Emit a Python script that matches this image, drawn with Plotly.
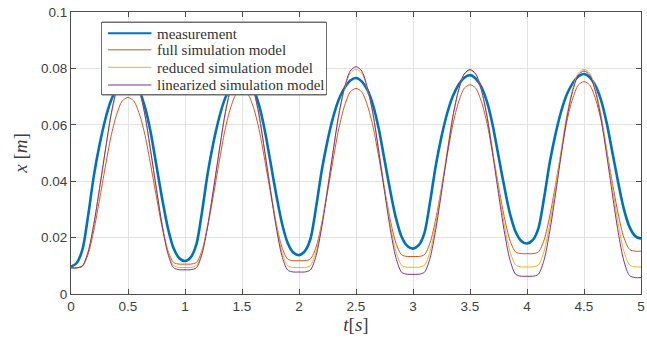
import plotly.graph_objects as go

# time axis in seconds (0 .. 5 s, step 0.05 s)
t = [round(i * 0.05, 2) for i in range(101)]

measurement = [
    .0097, .0110, .0157, .0277, .0418, .0528, .0618, .0685, .0728, .0755, .0765, .0752, .0720, .0661, .0571, .0454, .0337, .0234, .0162, .0127,
    .0117, .0130, .0176, .0293, .0430, .0538, .0626, .0692, .0734, .0760, .0770, .0757, .0726, .0669, .0580, .0467, .0353, .0252, .0182, .0147,
    .0138, .0151, .0195, .0308, .0439, .0543, .0628, .0691, .0731, .0757, .0766, .0754, .0724, .0669, .0585, .0476, .0367, .0270, .0203, .0170,
    .0161, .0173, .0216, .0327, .0456, .0558, .0641, .0702, .0742, .0767, .0776, .0764, .0734, .0680, .0597, .0489, .0382, .0286, .0221, .0188,
    .0179, .0191, .0233, .0341, .0467, .0567, .0648, .0708, .0747, .0771, .0780, .0768, .0739, .0687, .0605, .0500, .0395, .0301, .0237, .0205,
    .0196,
]

full_model = [
    .0092, .0092, .0098, .0141, .0225, .0334, .0449, .0557, .0636, .0685, .0697, .0685, .0638, .0562, .0455, .0343, .0236, .0154, .0112, .0106,
    .0106, .0106, .0112, .0155, .0242, .0352, .0469, .0580, .0660, .0710, .0722, .0710, .0662, .0583, .0474, .0360, .0251, .0166, .0124, .0118,
    .0118, .0118, .0124, .0167, .0252, .0362, .0478, .0588, .0668, .0717, .0729, .0717, .0669, .0592, .0485, .0371, .0264, .0181, .0139, .0133,
    .0133, .0133, .0139, .0182, .0267, .0377, .0492, .0602, .0681, .0730, .0742, .0730, .0682, .0604, .0496, .0383, .0275, .0191, .0149, .0143,
    .0143, .0143, .0149, .0192, .0277, .0387, .0503, .0613, .0692, .0741, .0753, .0741, .0693, .0615, .0507, .0392, .0284, .0200, .0158, .0152,
    .0152,
]

reduced_model = [
    .0093, .0093, .0100, .0149, .0246, .0372, .0504, .0630, .0720, .0776, .0790, .0776, .0720, .0630, .0505, .0372, .0247, .0150, .0101, .0094,
    .0094, .0094, .0101, .0150, .0248, .0373, .0506, .0631, .0722, .0778, .0792, .0778, .0722, .0631, .0506, .0373, .0248, .0150, .0101, .0094,
    .0094, .0094, .0101, .0150, .0249, .0375, .0509, .0635, .0727, .0783, .0797, .0783, .0727, .0636, .0509, .0376, .0249, .0151, .0102, .0095,
    .0095, .0095, .0102, .0151, .0249, .0374, .0507, .0632, .0723, .0779, .0793, .0779, .0723, .0633, .0507, .0375, .0249, .0152, .0103, .0096,
    .0096, .0096, .0103, .0152, .0250, .0376, .0510, .0636, .0727, .0783, .0797, .0783, .0727, .0636, .0510, .0376, .0250, .0152, .0103, .0096,
    .0096,
]

linearized_model = [
    .0093, .0093, .0100, .0149, .0247, .0374, .0507, .0634, .0725, .0781, .0795, .0781, .0724, .0632, .0504, .0370, .0242, .0143, .0093, .0086,
    .0086, .0086, .0093, .0143, .0243, .0372, .0507, .0636, .0729, .0786, .0800, .0786, .0728, .0634, .0504, .0367, .0237, .0136, .0085, .0078,
    .0078, .0078, .0085, .0136, .0238, .0369, .0508, .0639, .0733, .0791, .0806, .0791, .0732, .0637, .0504, .0364, .0232, .0129, .0077, .0070,
    .0070, .0070, .0077, .0128, .0230, .0360, .0498, .0629, .0723, .0781, .0796, .0781, .0723, .0627, .0495, .0356, .0224, .0122, .0070, .0063,
    .0063, .0063, .0070, .0121, .0223, .0354, .0493, .0624, .0718, .0776, .0791, .0776, .0718, .0622, .0490, .0351, .0219, .0117, .0065, .0058,
    .0058,
]

series_names = ["measurement", "full simulation model", "reduced simulation model", "linearized simulation model"]
series_colors = ["#0072BD", "#D95319", "#EDB120", "#7E2F8E"]
series_widths = [2.6, 1, 1, 1]
legend_widths = [2, 1, 1, 1]
series_values = [measurement, full_model, reduced_model, linearized_model]

x_ticks = [0, 0.5, 1, 1.5, 2, 2.5, 3, 3.5, 4, 4.5, 5]
x_tick_labels = ["0", "0.5", "1", "1.5", "2", "2.5", "3", "3.5", "4", "4.5", "5"]
y_ticks = [0, 0.02, 0.04, 0.06, 0.08, 0.1]
y_tick_labels = ["0", "0.02", "0.04", "0.06", "0.08", "0.1"]

SERIF = '"Liberation Serif", "Times New Roman", Times, serif'
SANS = '"Liberation Sans", Arial, sans-serif'

W, H = 647, 347
ML, MR, MT, MB = 71, 2, 12, 53
PW, PH = W - ML - MR, H - MT - MB


def px_x(p):
    return (p - ML) / PW


def px_y(p):
    return (H - MB - p) / PH


fig = go.Figure()
for name, color, width, vals in zip(series_names, series_colors, series_widths, series_values):
    fig.add_trace(go.Scatter(
        x=t, y=vals, mode="lines", name=name, showlegend=False,
        line=dict(color=color, width=width, shape="spline", smoothing=0.8),
    ))

# hand-drawn legend (compact row spacing like the original)
box_l, box_r, box_t, box_b = 102, 328, 22, 95
shapes = [dict(
    type="rect", xref="paper", yref="paper", layer="above",
    x0=px_x(box_l), x1=px_x(box_r), y0=px_y(box_b), y1=px_y(box_t),
    fillcolor="#ffffff", opacity=1, line=dict(color="#6e6e6e", width=1),
)]
annotations = [dict(
    xref="paper", yref="paper",
    x=px_x((box_l + box_r) / 2), y=px_y((box_t + box_b) / 2),
    xanchor="center", yanchor="middle", showarrow=False, text=" ",
    width=box_r - box_l - 2, height=box_b - box_t - 2,
    bgcolor="#ffffff", opacity=1, bordercolor="#6e6e6e", borderwidth=1, borderpad=0,
    font=dict(size=1),
)]
row_y = [33.3, 49.8, 67.3, 85.0]
for name, color, lw, ry in zip(series_names, series_colors, legend_widths, row_y):
    annotations.append(dict(
        xref="paper", yref="paper", x=px_x(152), y=px_y(ry),
        ax=-45, ay=0, axref="pixel", ayref="pixel", text="",
        showarrow=True, arrowhead=0, arrowwidth=lw, arrowcolor=color,
        standoff=0, startstandoff=0,
    ))
    annotations.append(dict(
        xref="paper", yref="paper", x=px_x(155.5), y=px_y(ry + 0.5),
        xanchor="left", yanchor="middle", showarrow=False, text=name,
        font=dict(family=SERIF, size=15, color="#333333"),
    ))

axis_common = dict(
    showline=True, linecolor="#4d4d4d", linewidth=1, mirror="ticks",
    ticks="inside", ticklen=5, tickcolor="#4d4d4d", tickwidth=1,
    showgrid=True, gridcolor="#e3e3e3", gridwidth=1, zeroline=False,
    ticklabeloverflow="allow",
    tickfont=dict(family=SANS, size=13.5, color="#404040"),
)

fig.update_layout(
    width=W, height=H,
    margin=dict(l=ML, r=MR, t=MT, b=MB),
    paper_bgcolor="white", plot_bgcolor="white",
    xaxis=dict(range=[0, 5], tickvals=x_ticks, ticktext=x_tick_labels,
               title=dict(text="<i>t</i>[<i>s</i>]", standoff=4,
                          font=dict(family=SERIF, size=19, color="#404040")),
               **axis_common),
    yaxis=dict(range=[0, 0.1], tickvals=y_ticks, ticktext=y_tick_labels,
               title=dict(text="<i>x</i> [<i>m</i>]", standoff=8,
                          font=dict(family=SERIF, size=19, color="#404040")),
               **axis_common),
    shapes=shapes,
    annotations=annotations,
    showlegend=False,
)

fig.write_html("out.html")
